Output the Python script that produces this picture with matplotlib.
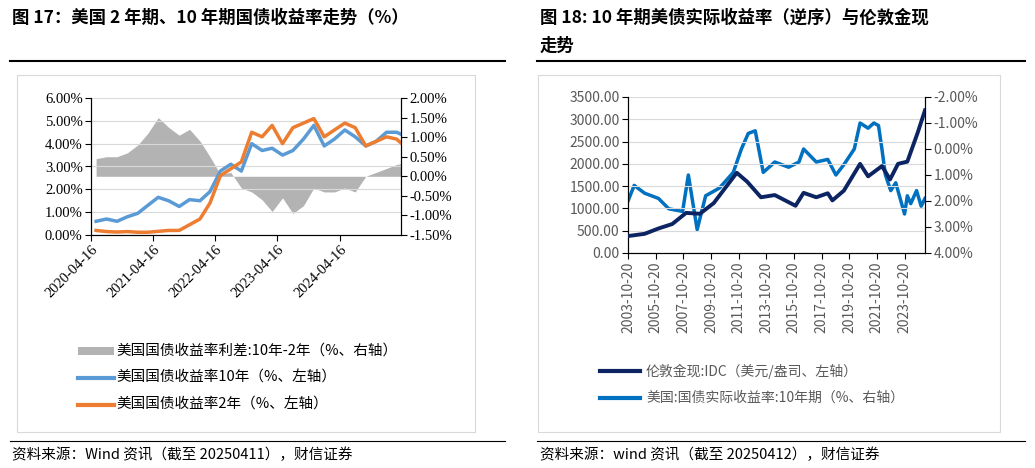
import matplotlib
matplotlib.use("Agg")
import matplotlib.pyplot as plt
import pandas as pd
from matplotlib.lines import Line2D
from matplotlib.patches import Rectangle

# ---------- Panel 1 data ----------
p1_dates = pd.date_range("2020-04-16", periods=31, freq="2MS") + pd.Timedelta(days=15)
p1_y10 = [0.6, 0.7, 0.6, 0.8, 0.95, 1.3, 1.65, 1.5, 1.25, 1.55, 1.5, 1.9, 2.8, 3.1, 2.8, 4.0,
          3.7, 3.8, 3.5, 3.7, 4.2, 4.8, 3.9, 4.2, 4.6, 4.3, 3.9, 4.1, 4.5, 4.5, 4.3]
p1_y2 = [0.2, 0.15, 0.13, 0.15, 0.12, 0.12, 0.16, 0.2, 0.2, 0.45, 0.7, 1.4, 2.6, 2.9, 3.2, 4.5,
         4.3, 4.8, 4.0, 4.7, 4.9, 5.1, 4.3, 4.6, 4.9, 4.7, 3.9, 4.1, 4.3, 4.2, 3.8]
p1_spread = [0.45, 0.5, 0.5, 0.6, 0.8, 1.1, 1.5, 1.25, 1.05, 1.2, 0.9, 0.5, 0.05, 0.1, -0.3, -0.4,
             -0.6, -0.9, -0.55, -0.95, -0.75, -0.3, -0.4, -0.4, -0.3, -0.4, 0.0, 0.1, 0.2, 0.3, 0.35]
p1_ticks = ["2020-04-16", "2021-04-16", "2022-04-16", "2023-04-16", "2024-04-16"]
p1_left_ticks = [0, 1, 2, 3, 4, 5, 6]
p1_right_ticks = [-1.5, -1.0, -0.5, 0.0, 0.5, 1.0, 1.5, 2.0]

# ---------- Panel 2 data ----------
p2_gold_dates = ["2003-10-20", "2005-01-01", "2006-01-01", "2007-01-01", "2008-01-01", "2009-01-01",
                 "2010-01-01", "2011-09-01", "2012-06-01", "2013-06-01", "2014-06-01", "2015-12-01",
                 "2016-07-01", "2017-06-01", "2018-04-01", "2018-08-01", "2019-06-01", "2020-08-01",
                 "2021-03-01", "2022-03-01", "2022-10-01", "2023-05-01", "2024-01-01", "2024-10-01",
                 "2025-04-11"]
p2_gold = [380, 430, 550, 650, 900, 880, 1120, 1800, 1600, 1250, 1300, 1060, 1350, 1250, 1340,
           1180, 1400, 2000, 1720, 1950, 1650, 2000, 2050, 2700, 3200]
p2_real_dates = ["2003-10-20", "2004-04-01", "2005-01-01", "2006-01-01", "2006-10-01", "2007-10-01",
                 "2008-03-01", "2008-10-20", "2009-06-01", "2010-06-01", "2011-06-01", "2012-01-01",
                 "2012-07-01", "2013-01-01", "2013-08-01", "2014-06-01", "2015-06-01", "2016-03-01",
                 "2016-07-01", "2017-06-01", "2018-04-01", "2018-11-01", "2019-06-01", "2020-03-01",
                 "2020-08-01", "2021-03-01", "2021-08-01", "2021-12-01", "2022-03-01", "2022-06-01",
                 "2022-10-20", "2023-03-01", "2023-10-20", "2024-01-01", "2024-04-01", "2024-09-01",
                 "2025-01-01", "2025-04-11"]
p2_real = [2.0, 1.4, 1.7, 1.9, 2.3, 2.4, 1.0, 3.1, 1.8, 1.5, 0.9, 0.0, -0.6, -0.7, 0.9, 0.5, 0.7,
           0.5, 0.0, 0.5, 0.4, 1.0, 0.6, 0.0, -1.0, -0.8, -1.0, -0.9, 0.0, 1.0, 1.6, 1.3, 2.5, 1.8,
           2.1, 1.6, 2.2, 1.9]
p2_ticks = ["%d-10-20" % y for y in range(2003, 2024, 2)]
p2_left_ticks = [0, 500, 1000, 1500, 2000, 2500, 3000, 3500]
p2_right_ticks = [-2, -1, 0, 1, 2, 3, 4]

CJK = "Noto Sans CJK SC"
SERIF = "Liberation Serif"

fig = plt.figure(figsize=(10.35, 4.68), dpi=100)
W, H = 1035, 468
def fx(x): return x / W
def fy(y): return 1 - y / H

fig.text(fx(12), fy(18), "图 17：美国 2 年期、10 年期国债收益率走势（%）", fontfamily=CJK,
         fontweight="bold", fontsize=12.5, va="center")
fig.text(fx(540), fy(18), "图 18: 10 年期美债实际收益率（逆序）与伦敦金现", fontfamily=CJK,
         fontweight="bold", fontsize=12.5, va="center")
fig.text(fx(540), fy(46), "走势", fontfamily=CJK, fontweight="bold", fontsize=12.5, va="center")
for x0, x1 in [(10, 505), (537, 1025)]:
    fig.add_artist(Line2D([fx(x0), fx(x1)], [fy(61), fy(61)], color="black", lw=1.5))
    fig.add_artist(Line2D([fx(x0), fx(x1)], [fy(441), fy(441)], color="black", lw=0.8))
fig.text(fx(12), fy(455), "资料来源：Wind 资讯（截至 20250411），财信证券", fontfamily=CJK,
         fontstyle="italic", fontsize=10.5, va="center")
fig.text(fx(540), fy(455), "资料来源：wind 资讯（截至 20250412），财信证券", fontfamily=CJK,
         fontstyle="italic", fontsize=10.5, va="center")
fig.add_artist(Rectangle((fx(17), fy(432)), fx(458), 357 / H, fill=False, ec="#d9d9d9", lw=0.8))
fig.add_artist(Rectangle((fx(538), fy(432)), fx(462), 357 / H, fill=False, ec="#d9d9d9", lw=0.8))

# ---------- Panel 1 ----------
d1 = pd.to_datetime(p1_dates)
ax1 = fig.add_axes([fx(91), fy(235), fx(310), 137 / H])
ax1r = ax1.twinx()
ax1r.fill_between(d1, 0, p1_spread, color="#b3b3b3", lw=0)
ax1r.set_ylim(-1.5, 2.0)
ax1r.set_yticks(p1_right_ticks)
ax1r.set_yticklabels(["%.2f%%" % v for v in p1_right_ticks], fontfamily=SERIF, fontsize=10.5)
ax1.set_zorder(ax1r.get_zorder() + 1)
ax1.patch.set_visible(False)
ax1.plot(d1, p1_y10, color="#5b9bd5", lw=2.5)
ax1.plot(d1, p1_y2, color="#ed7d31", lw=2.5)
ax1.set_ylim(0, 6)
ax1.set_yticks(p1_left_ticks)
ax1.set_yticklabels(["%.2f%%" % v for v in p1_left_ticks], fontfamily=SERIF, fontsize=10.5)
ax1.yaxis.grid(True, color="#d9d9d9", lw=0.8)
ax1.set_axisbelow(True)
ax1.set_xlim(pd.Timestamp("2020-04-16"), pd.Timestamp("2025-04-11"))
ax1.set_xticks(pd.to_datetime(p1_ticks))
ax1.set_xticklabels(p1_ticks, rotation=45, ha="right", rotation_mode="anchor",
                    fontfamily=SERIF, fontsize=10.5)
for a in (ax1, ax1r):
    a.spines["top"].set_visible(False)
    a.tick_params(direction="out", length=4, pad=2)

leg1 = [("#b3b3b3", "美国国债收益率利差:10年-2年（%、右轴）", True),
        ("#5b9bd5", "美国国债收益率10年（%、左轴）", False),
        ("#ed7d31", "美国国债收益率2年（%、左轴）", False)]
for i, (c, t, box) in enumerate(leg1):
    y = 351 + i * 27
    if box:
        fig.add_artist(Rectangle((fx(78), fy(y + 4)), fx(36), 8 / H, color=c, lw=0))
    else:
        fig.add_artist(Line2D([fx(78), fx(114)], [fy(y), fy(y)], color=c, lw=3))
    fig.text(fx(116), fy(y), t, fontfamily=CJK, fontsize=10.5, va="center")

# ---------- Panel 2 ----------
gcol = "#595959"
ax2 = fig.add_axes([fx(628), fy(253), fx(297), 156 / H])
ax2r = ax2.twinx()
ax2.plot(pd.to_datetime(p2_gold_dates), p2_gold, color="#0c2461", lw=2.8, zorder=3)
ax2r.plot(pd.to_datetime(p2_real_dates), p2_real, color="#0070c0", lw=2.5, zorder=2)
ax2.set_zorder(ax2r.get_zorder() + 1)
ax2.patch.set_visible(False)
ax2.set_ylim(0, 3500)
ax2.set_yticks(p2_left_ticks)
ax2.set_yticklabels(["%.2f" % v for v in p2_left_ticks], fontfamily=CJK, fontsize=10, color=gcol)
ax2r.set_ylim(4, -2)
ax2r.set_yticks(p2_right_ticks)
ax2r.set_yticklabels(["%.2f%%" % v for v in p2_right_ticks], fontfamily=CJK, fontsize=10, color=gcol)
ax2.yaxis.grid(True, color="#d9d9d9", lw=0.8)
ax2.set_xlim(pd.Timestamp("2003-10-20"), pd.Timestamp("2025-04-12"))
ax2.set_xticks(pd.to_datetime(p2_ticks))
ax2.set_xticklabels(p2_ticks, rotation=90, fontfamily=CJK, fontsize=10, color=gcol)
for a in (ax2, ax2r):
    a.spines["top"].set_visible(False)
    a.tick_params(direction="out", length=4, pad=2)

leg2 = [("#0c2461", "伦敦金现:IDC（美元/盎司、左轴）"),
        ("#0070c0", "美国:国债实际收益率:10年期（%、右轴）")]
for i, (c, t) in enumerate(leg2):
    y = 371 + i * 27
    fig.add_artist(Line2D([fx(600), fx(640)], [fy(y), fy(y)], color=c, lw=3))
    fig.text(fx(646), fy(y), t, fontfamily=CJK, fontsize=10, va="center", color=gcol)

fig.savefig("out.png", dpi=100)
